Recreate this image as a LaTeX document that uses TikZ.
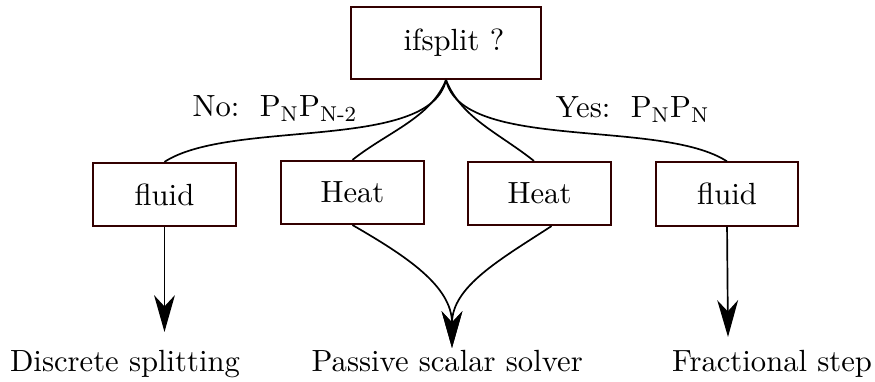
\documentclass[tikz,border=0pt]{standalone}
\usepackage{tikz}
\usetikzlibrary{positioning, arrows.meta, calc}

\definecolor{boxline}{RGB}{51,0,0}

\begin{document}
\begin{tikzpicture}[
    font=\fontsize{10.9}{13}\selectfont,
    box/.style={draw=boxline, line width=0.7pt, fill=white, inner sep=0pt,
        minimum width=1.78cm, minimum height=0.79cm},
    conn/.style={line width=0.6pt},
    arr/.style={conn, -{Stealth[length=0.46cm, width=0.26cm, inset=0.14cm]}}
    ]
    \useasboundingbox (0, 0) rectangle (10.9375, 4.775);

    % decision and the four solver boxes
    \node[box, minimum width=2.375cm, minimum height=0.9cm] (split) at (5.575, 4.2375) {\hspace{0.2cm}ifsplit ?};
    \node[box] (fluidL) at (2.056, 2.344) {fluid};
    \node[box] (heatA) at (4.406, 2.369) {Heat};
    \node[box] (heatB) at (6.744, 2.356) {Heat};
    \node[box] (fluidR) at (9.088, 2.35) {fluid};

    % branch labels
    \node[anchor=base west, inner sep=0pt] (nolab) at (2.4, 3.3125) {No:\ \ P\textsubscript{N}P\textsubscript{N-2}};
    \node[anchor=base west, inner sep=0pt] (yeslab) at (6.94, 3.3) {Yes:\ \ P\textsubscript{N}P\textsubscript{N}};

    % outcomes
    \node[anchor=base, inner sep=0pt] (discrete) at (1.5625, 0.125) {Discrete splitting};
    \node[anchor=base, inner sep=0pt] (passive) at (5.59, 0.125) {Passive scalar solver};
    \node[anchor=base, inner sep=0pt] (fractional) at (9.65, 0.125) {Fractional step};

    \coordinate (tipL) at (2.056, 0.625);
    \coordinate (tipM) at (5.65, 0.425);
    \coordinate (tipR) at (9.10, 0.5625);

    % branches out of the decision
    \draw[conn] (split.south) .. controls +(-0.2,-0.9) and +(0.83,0.54) .. (fluidL.north);
    \draw[conn] (split.south) .. controls +(0.2,-0.9) and +(-0.83,0.54) .. (fluidR.north);
    \draw[conn] (split.south) .. controls +(-0.19,-0.475) and +(0.44,0.35) .. (heatA.north);
    \draw[conn] (split.south) .. controls +(0.19,-0.475) and +(-0.44,0.35) .. ([xshift=-0.07cm]heatB.north);

    % solvers to outcomes
    \draw[arr] (fluidL.south) -- (tipL);
    \draw[arr] (fluidR.south) -- (tipR);
    \draw[arr] (heatA.south) to[out=-30, in=90] (tipM);
    \draw[arr] ([xshift=0.15cm]heatB.south) to[out=-147, in=90] (tipM);
\end{tikzpicture}
\end{document}
